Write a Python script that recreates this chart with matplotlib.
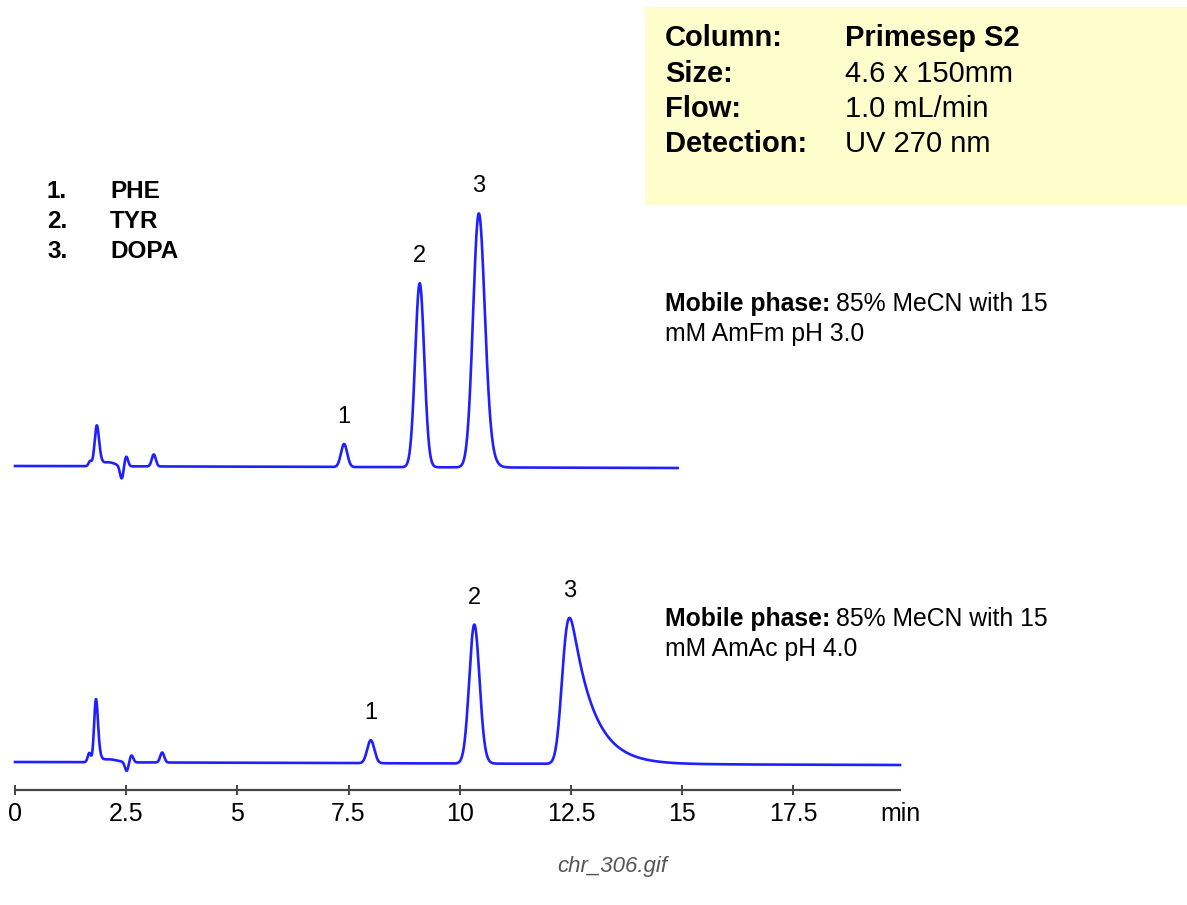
import matplotlib
matplotlib.use("Agg")
import matplotlib.pyplot as plt
import numpy as np
from matplotlib.patches import Rectangle

plt.rcParams['font.family'] = ['Liberation Sans', 'DejaVu Sans']

# peak tables
# retention time (min), height (signal units), sigma (min), exponential tail (min)
top_rt    = [1.69, 1.84, 2.10, 2.40, 2.50, 3.12, 7.40, 9.10, 10.43]
top_h     = [5, 40, 4, -13, 10, 12, 23, 184, 254]
top_sigma = [0.035, 0.045, 0.15, 0.04, 0.04, 0.045, 0.07, 0.10, 0.12]
top_tau   = [0, 0.03, 0, 0, 0, 0, 0, 0.02, 0.07]
top_base  = [324, 322]          # baseline at start / end of run
top_end   = 14.9
top_named = [6, 7, 8]           # which peaks carry labels 1, 2, 3

bot_rt    = [1.67, 1.82, 2.10, 2.51, 2.62, 3.31, 8.00, 10.33, 12.47]
bot_h     = [9, 62, 3, -9, 7, 10, 23, 139, 146]
bot_sigma = [0.035, 0.038, 0.2, 0.04, 0.04, 0.045, 0.08, 0.11, 0.11]
bot_tau   = [0, 0.03, 0, 0, 0, 0, 0, 0.04, 0.48]
bot_base  = [28, 25]
bot_end   = 19.9
bot_named = [6, 7, 8]

peak_labels = ["1", "2", "3"]
compounds = ["PHE", "TYR", "DOPA"]

x_ticks = [0, 2.5, 5, 7.5, 10, 12.5, 15, 17.5]
x_ticklabels = ["0", "2.5", "5", "7.5", "10", "12.5", "15", "17.5"]

info_keys = ["Column:", "Size:", "Flow:", "Detection:"]
info_vals = ["Primesep S2", "4.6 x 150mm", "1.0 mL/min", "UV 270 nm"]

phase_top = ["85% MeCN with 15", "mM AmFm pH 3.0"]
phase_bot = ["85% MeCN with 15", "mM AmAc pH 4.0"]

W, H = 1187, 905
BLUE = "#1f1fff"


def peak_shape(t, rt, h, sigma, tau):
	g = np.exp(-0.5 * ((t - rt) / sigma) ** 2)
	if tau > 0:
		dt = t[1] - t[0]
		k = np.exp(-np.arange(0, 8 * tau, dt) / tau)
		g = np.convolve(g, k)[:len(t)]
		shift = t[np.argmax(g)] - rt
		g = np.interp(t + shift, t, g)
	return h * g / g.max()


def trace(rt, hh, sg, tau, base, t_end):
	t = np.linspace(0, t_end, 5000)
	y = np.interp(t, [0, t_end], base)
	for i in range(len(rt)):
		y = y + peak_shape(t, rt[i], hh[i], sg[i], tau[i])
	return t, y


def px(x, y):
	return x / W, 1 - y / H


fig = plt.figure(figsize=(W / 100, H / 100), dpi=100)

# info box
fig.patches.append(Rectangle(px(645, 205), (W - 645) / W, 198 / H,
	transform=fig.transFigure, facecolor="#fffdcc", edgecolor="none", zorder=0))
for i in range(len(info_keys)):
	y = 38 + i * 35.5
	fig.text(*px(665, y), info_keys[i], fontsize=21, fontweight="bold", va="center")
	fig.text(*px(845, y), info_vals[i], fontsize=21, va="center",
		fontweight="bold" if i == 0 else "normal")

# compound list
for i in range(len(compounds)):
	y = 192 + i * 30
	fig.text(*px(47, y), peak_labels[i] + ".", fontsize=17.5, fontweight="bold", va="center")
	fig.text(*px(110, y), compounds[i], fontsize=17.5, fontweight="bold", va="center")

# mobile phase notes
renderer = fig.canvas.get_renderer()
for lines, y0 in [(phase_top, 304), (phase_bot, 619)]:
	b = fig.text(*px(665, y0), "Mobile phase:", fontsize=17.8, fontweight="bold", va="center")
	bb = b.get_window_extent(renderer)
	fig.text((bb.x1 + 6) / W, 1 - y0 / H, lines[0], fontsize=17.8, va="center")
	fig.text(*px(665, y0 + 30), lines[1], fontsize=17.8, va="center")

ax = fig.add_axes([15 / W, 1 - 790 / H, (900 - 15) / W, (790 - 170) / H])
ax.set_xlim(0, 19.9)
ax.set_ylim(0, 620)

for rt, hh, sg, tau, base, t_end, named in [
	(top_rt, top_h, top_sigma, top_tau, top_base, top_end, top_named),
	(bot_rt, bot_h, bot_sigma, bot_tau, bot_base, bot_end, bot_named),
]:
	t, y = trace(rt, hh, sg, tau, base, t_end)
	ax.plot(t, y, color=BLUE, linewidth=1.9, clip_on=False)
	for lab, idx in zip(peak_labels, named):
		apex = np.interp(rt[idx], t, y)
		ax.text(rt[idx], apex + 27, lab, fontsize=17, ha="center", va="center")

for s in ["left", "right", "top"]:
	ax.spines[s].set_visible(False)
ax.spines["bottom"].set_color("#444444")
ax.spines["bottom"].set_linewidth(1.6)
ax.set_yticks([])
ax.set_xticks(x_ticks)
ax.set_xticklabels(x_ticklabels)
ax.tick_params(axis="x", direction="inout", length=7, width=1.4, color="#444444",
	labelsize=18, pad=5)
ax.annotate("min", xy=(19.9, 0), xycoords=("data", "axes fraction"),
	xytext=(0, -8.5), textcoords="offset points", ha="center", va="top", fontsize=18)
ax.patch.set_alpha(0)

fig.text(*px(612, 866), "chr_306.gif", fontsize=16, style="italic", color="#555555",
	ha="center", va="center")

fig.savefig("out.png", dpi=100)
